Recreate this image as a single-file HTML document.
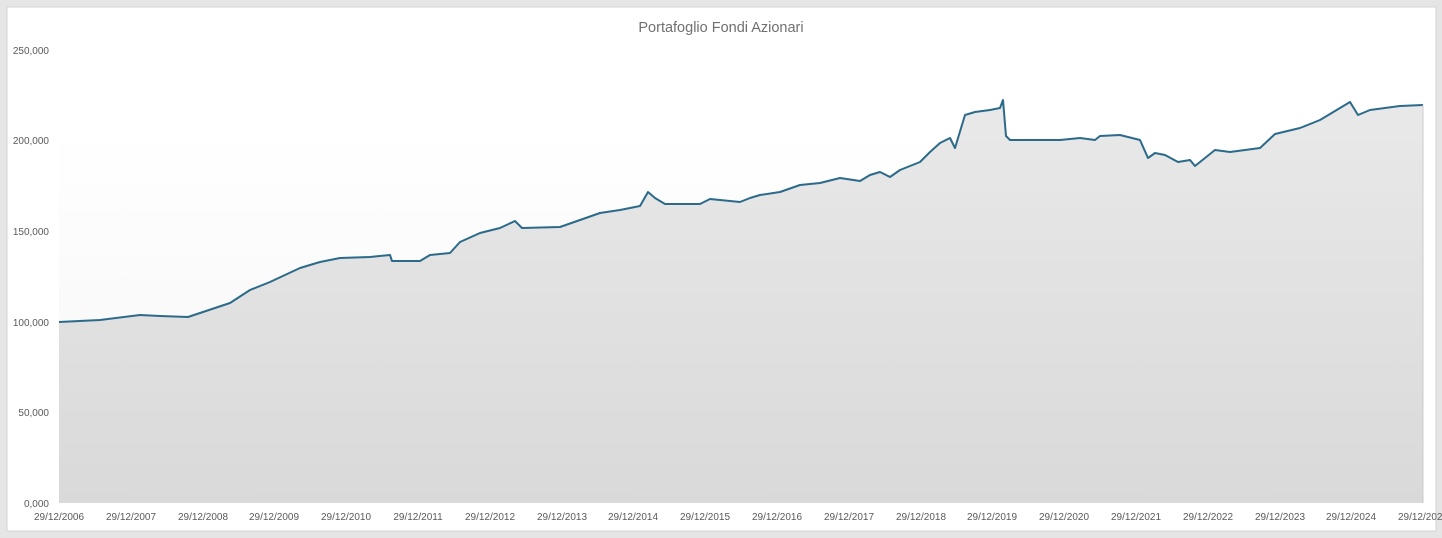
<!DOCTYPE html>
<html><head><style>
body{margin:0;background:#e5e5e5;width:1442px;height:538px;overflow:hidden;font-family:"Liberation Sans",sans-serif}
</style></head><body>
<svg width="1442" height="538" xmlns="http://www.w3.org/2000/svg" style="position:absolute;left:0;top:0">
<defs><linearGradient id="g" x1="0" y1="0" x2="0" y2="1"><stop offset="0" stop-color="#e9e9e9"/><stop offset="1" stop-color="#d9d9d9"/></linearGradient>
<linearGradient id="w" x1="0" y1="0" x2="0" y2="1"><stop offset="0" stop-color="#ffffff"/><stop offset="1" stop-color="#f4f4f4"/></linearGradient></defs>
<rect x="7" y="7" width="1429" height="524" fill="#fff" stroke="#d4d4d4"/>
<rect x="59" y="130" width="1364" height="373" fill="url(#w)"/>
<text x="721" y="32" font-size="14.5" fill="#707070" text-anchor="middle">Portafoglio Fondi Azionari</text>
<g font-size="10" fill="#595959" text-anchor="end">
<text x="49" y="54">250,000</text><text x="49" y="144">200,000</text><text x="49" y="235">150,000</text><text x="49" y="326">100,000</text><text x="49" y="416">50,000</text><text x="49" y="507">0,000</text></g>
<g font-size="10" fill="#595959" text-anchor="middle">
<text x="59" y="520">29/12/2006</text><text x="131" y="520">29/12/2007</text><text x="203" y="520">29/12/2008</text><text x="274" y="520">29/12/2009</text><text x="346" y="520">29/12/2010</text><text x="418" y="520">29/12/2011</text><text x="490" y="520">29/12/2012</text><text x="562" y="520">29/12/2013</text><text x="633" y="520">29/12/2014</text><text x="705" y="520">29/12/2015</text><text x="777" y="520">29/12/2016</text><text x="849" y="520">29/12/2017</text><text x="921" y="520">29/12/2018</text><text x="992" y="520">29/12/2019</text><text x="1064" y="520">29/12/2020</text><text x="1136" y="520">29/12/2021</text><text x="1208" y="520">29/12/2022</text><text x="1280" y="520">29/12/2023</text><text x="1351" y="520">29/12/2024</text><text x="1423" y="520">29/12/2025</text></g>
<polygon fill="url(#g)" points="59,503 59,322 100,320 140,315 160,316 188,317 200,313 230,303 250,290 270,282 300,268 320,262 340,258 370,257 390,255 392,261 420,261 430,255 450,253 460,242 480,233 500,228 515,221 522,228 560,227 580,220 600,213 620,210 640,206 648,192 655,198 665,204 700,204 710,199 740,202 750,198 760,195 780,192 800,185 820,183 840,178 860,181 870,175 880,172 890,177 900,170 920,162 930,152 940,143 950,138 955,148 965,115 975,112 990,110 1000,108 1003,100 1006,136 1010,140 1060,140 1080,138 1095,140 1100,136 1120,135 1140,140 1148,158 1155,153 1165,155 1178,162 1190,160 1195,166 1205,158 1215,150 1230,152 1260,148 1275,134 1300,128 1320,120 1345,105 1350,102 1358,115 1370,110 1400,106 1423,105 1423,503"/>
<polyline fill="none" stroke="#2b6a8a" stroke-width="2" stroke-linejoin="round" points="59,322 100,320 140,315 160,316 188,317 200,313 230,303 250,290 270,282 300,268 320,262 340,258 370,257 390,255 392,261 420,261 430,255 450,253 460,242 480,233 500,228 515,221 522,228 560,227 580,220 600,213 620,210 640,206 648,192 655,198 665,204 700,204 710,199 740,202 750,198 760,195 780,192 800,185 820,183 840,178 860,181 870,175 880,172 890,177 900,170 920,162 930,152 940,143 950,138 955,148 965,115 975,112 990,110 1000,108 1003,100 1006,136 1010,140 1060,140 1080,138 1095,140 1100,136 1120,135 1140,140 1148,158 1155,153 1165,155 1178,162 1190,160 1195,166 1205,158 1215,150 1230,152 1260,148 1275,134 1300,128 1320,120 1345,105 1350,102 1358,115 1370,110 1400,106 1423,105"/>
<line x1="1423" y1="105" x2="1423" y2="503" stroke="#ccc"/>
</svg>
</body></html>
